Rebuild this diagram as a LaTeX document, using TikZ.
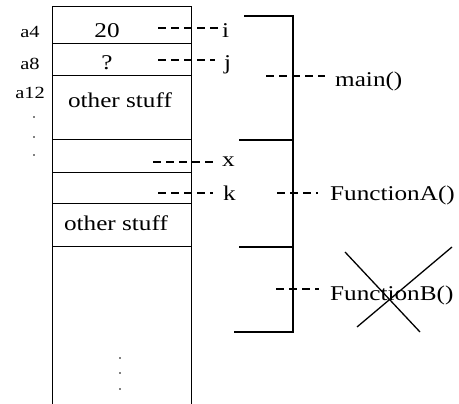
\documentclass[tikz,border=0pt]{standalone}
\usepackage{fontspec}
\setmainfont{Liberation Serif}[FakeStretch=1.2]
\usetikzlibrary{positioning}

\tikzset{
  txt/.style={inner sep=0pt, font=\fontsize{21}{24}\selectfont},
  addr/.style={inner sep=0pt, font=\fontsize{17}{20}\selectfont},
  link/.style={dash pattern=on 8pt off 5pt, line width=1.4pt},
  frame/.style={line width=1.5pt},
  cell/.style={line width=1pt},
}

\begin{document}
\begin{tikzpicture}[x=1pt,y=-1pt]
    \useasboundingbox (0,0) rectangle (459,404);

    % stack column
    \draw[cell] (52,404) -- (52,7) -- (191,7) -- (191,404);
    \foreach \y in {44,76,140,173,204,247}
        \draw[cell] (52,\y) -- (191,\y);

    \node[txt] (val20) at (107,31) {20};
    \node[txt] (valq) at (107,63) {?};
    \node[txt] (other1) at (120,100) {other stuff};
    \node[txt] (other2) at (116,223) {other stuff};

    % addresses
    \node[addr] (a4) at (30,32) {a4};
    \node[addr] (a8) at (30,64) {a8};
    \node[addr] (a12) at (30,93) {a12};
    \foreach \y in {117,137,155}
        \fill (34,\y) circle (0.9pt);
    \foreach \y in {358,373,389}
        \fill (120,\y) circle (0.9pt);

    % variables
    \node[txt, anchor=base west] (vari) at (222,38) {i};
    \node[txt, anchor=base west] (varj) at (224,70) {j};
    \node[txt, anchor=base west] (varx) at (222,167) {x};
    \node[txt, anchor=base west] (vark) at (223,201) {k};
    \coordinate (ei) at (158,28);
    \coordinate (ej) at (158,60);
    \coordinate (ex) at (153,162);
    \coordinate (ek) at (158,193);
    \draw[link] (ei) -- (ei -| vari.west);
    \draw[link] (ej) -- (215,60);
    \draw[link] (ex) -- (213,162);
    \draw[link] (ek) -- (213,193);

    % frames
    \draw[frame] (244,16) -- (293,16) -- (293,332) -- (234,332);
    \draw[frame] (239,140) -- (293,140);
    \draw[frame] (239,247) -- (293,247);

    \node[txt, anchor=base west] (fmain) at (335,87) {main()};
    \node[txt, anchor=base west] (fA) at (330,201) {FunctionA()};
    \node[txt, anchor=base west] (fB) at (330,301) {FunctionB()};
    \coordinate (emain) at (266,76);
    \coordinate (eA) at (277,193);
    \coordinate (eB) at (276,289);
    \draw[link] (emain) -- (325,76);
    \draw[link] (eA) -- (318,193);
    \draw[link] (eB) -- (319,289);

    % crossed out
    \draw[line width=1.3pt] (345,252) -- (420,332);
    \draw[line width=1.3pt] (357,327) -- (452,247);

\end{tikzpicture}
\end{document}
